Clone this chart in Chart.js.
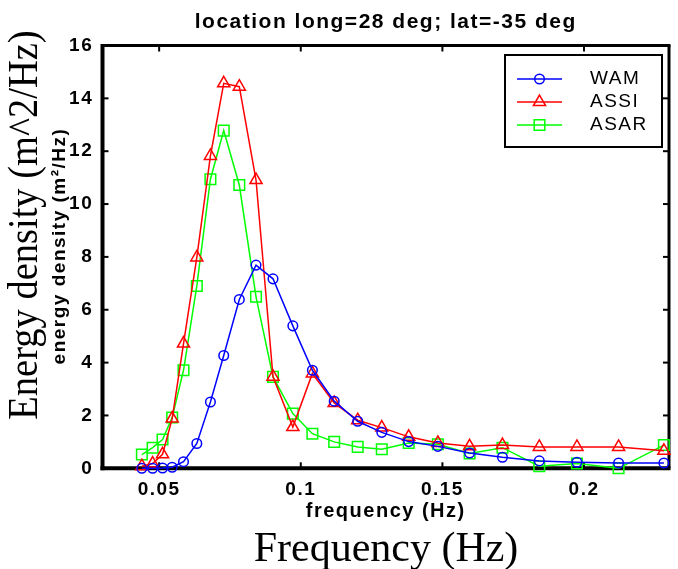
<!DOCTYPE html>
<html><head><meta charset="utf-8">
<script src="https://cdn.jsdelivr.net/npm/chart.js@4.4.1/dist/chart.umd.min.js"></script>
<style>
html,body{margin:0;padding:0;background:#fff;}
#wrap{position:relative;width:678px;height:569px;overflow:hidden;background:#fff;}
canvas{position:absolute;left:0;top:0;}
.lbl{position:absolute;white-space:nowrap;color:#000;line-height:1;}
#bigY{left:22px;top:225px;font-family:"Liberation Serif","Times New Roman",serif;font-size:43px;transform:translate(-50%,-50%) rotate(-90deg) scaleX(0.895);}
#smallY{left:58px;top:246px;font-family:"Liberation Sans",Arial,sans-serif;font-weight:bold;font-size:19px;letter-spacing:1.5px;transform:translate(-50%,-50%) rotate(-90deg);}
#bigX{left:386px;top:526px;font-family:"Liberation Serif","Times New Roman",serif;font-size:42px;transform:translateX(-50%);}
</style></head><body>
<div id="wrap">
<canvas id="c" width="678" height="569"></canvas>
<div class="lbl" id="bigY">Energy density (m^2/Hz)</div>
<div class="lbl" id="smallY">energy density (m²/Hz)</div>
<div class="lbl" id="bigX">Frequency (Hz)</div>
</div>
<script>
// ---- data ----
const frequency = [0.0439, 0.0477, 0.0512, 0.0546, 0.0586, 0.0633, 0.0681, 0.0728, 0.0783, 0.0842, 0.0902, 0.0972, 0.1041, 0.1118, 0.1201, 0.1286, 0.1381, 0.1484, 0.1596, 0.1712, 0.1842, 0.1975, 0.2122, 0.2282];
const wam  = [0, 0, 0.01, 0.04, 0.25, 0.94, 2.51, 4.27, 6.39, 7.69, 7.17, 5.39, 3.71, 2.54, 1.78, 1.36, 1.01, 0.83, 0.58, 0.42, 0.28, 0.23, 0.2, 0.2];
const assi = [0.08, 0.18, 0.53, 1.88, 4.72, 7.98, 11.82, 14.57, 14.44, 10.91, 3.46, 1.56, 3.59, 2.47, 1.82, 1.54, 1.19, 0.96, 0.83, 0.88, 0.81, 0.81, 0.81, 0.66];
const asar = [0.52, 0.78, 1.09, 1.92, 3.71, 6.9, 10.94, 12.78, 10.72, 6.49, 3.46, 2.07, 1.31, 1.0, 0.81, 0.72, 0.96, 0.91, 0.56, 0.78, 0.08, 0.18, 0, 0.88];
const seriesNames = ['WAM', 'ASSI', 'ASAR'];
const xTickValues = [0.05, 0.1, 0.15, 0.2];
const yTickValues = [0, 2, 4, 6, 8, 10, 12, 14, 16];
const titleText = 'location long=28 deg; lat=-35 deg';
const xAxisTitle = 'frequency (Hz)';

const toPts = vals => frequency.map((f, i) => ({x: f, y: vals[i]}));

const spacingPlugin = {
  id: 'spacing',
  beforeDraw(chart) { chart.ctx.letterSpacing = '1.5px'; }
};

const framePlugin = {
  id: 'frame',
  beforeDatasetsDraw(chart) {
    const {ctx, chartArea: a, scales: {x, y}} = chart;
    ctx.save();
    ctx.letterSpacing = '0px';
    ctx.strokeStyle = '#000';
    const seg = (x1, y1, x2, y2) => { ctx.beginPath(); ctx.moveTo(x1, y1); ctx.lineTo(x2, y2); ctx.stroke(); };
    const tl = 6;
    ctx.lineWidth = 2;
    x.ticks.forEach(t => {
      const p = x.getPixelForValue(t.value);
      seg(p, a.bottom, p, a.bottom - tl);
      seg(p, a.top, p, a.top + tl);
    });
    y.ticks.forEach(t => {
      const p = y.getPixelForValue(t.value);
      seg(a.left, p, a.left + tl, p);
      seg(a.right, p, a.right - tl, p);
    });
    ctx.lineWidth = 3;
    seg(a.left - 1.5, a.top, a.right + 1.5, a.top);
    seg(a.right, a.top, a.right, a.bottom);
    ctx.lineWidth = 4;
    seg(a.left, a.top - 1.5, a.left, a.bottom + 2);
    seg(a.left - 2, a.bottom, a.right + 1.5, a.bottom);
    ctx.restore();
  }
};

const legendPlugin = {
  id: 'boxLegend',
  afterDatasetsDraw(chart) {
    const ctx = chart.ctx;
    const bx = 505, by = 55, bw = 157, bh = 92;
    ctx.save();
    ctx.fillStyle = '#fff';
    ctx.fillRect(bx, by, bw, bh);
    ctx.strokeStyle = '#000';
    ctx.lineWidth = 2;
    ctx.strokeRect(bx, by, bw, bh);
    chart.data.datasets.forEach((ds, i) => {
      const yy = by + 24 + i * 23;
      ctx.strokeStyle = ds.borderColor;
      ctx.lineWidth = ds.borderWidth;
      ctx.beginPath(); ctx.moveTo(bx + 12, yy); ctx.lineTo(bx + 57, yy); ctx.stroke();
      ctx.fillStyle = 'rgba(0,0,0,0)';
      ctx.lineWidth = ds.pointBorderWidth;
      Chart.helpers.drawPoint(ctx, {pointStyle: ds.pointStyle, radius: ds.pointRadius, rotation: 0, borderWidth: ds.pointBorderWidth}, bx + 34.5, yy);
      ctx.fillStyle = '#000';
      ctx.letterSpacing = '1.5px';
      ctx.font = '19px "Liberation Sans", Arial, sans-serif';
      ctx.textAlign = 'left';
      ctx.textBaseline = 'middle';
      ctx.fillText(ds.label, bx + 85, yy);
    });
    ctx.restore();
  }
};

const mk = (label, vals, color, style, r) => ({
  label, data: toPts(vals), borderColor: color, backgroundColor: 'rgba(0,0,0,0)',
  borderWidth: 1.5, pointStyle: style, pointRadius: r, pointHoverRadius: r,
  pointBorderColor: color, pointBackgroundColor: 'rgba(0,0,0,0)', pointBorderWidth: 1.5,
  tension: 0, clip: false, fill: false
});

new Chart(document.getElementById('c'), {
  type: 'line',
  data: {
    datasets: [
      mk(seriesNames[0], wam, '#0000ff', 'circle', 4.8),
      mk(seriesNames[1], assi, '#ff0000', 'triangle', 7),
      mk(seriesNames[2], asar, '#00ff00', 'rect', 7.5)
    ]
  },
  options: {
    responsive: false,
    animation: false,
    events: [],
    layout: {padding: {left: 0, right: 2.5, top: 0, bottom: 0}},
    plugins: {
      legend: {display: false},
      tooltip: {enabled: false},
      title: {
        display: true, text: titleText, fullSize: false, color: '#000',
        font: {family: '"Liberation Sans", Arial, sans-serif', size: 21, weight: 'bold'},
        padding: {top: 9.4, bottom: 10.9}
      }
    },
    scales: {
      x: {
        type: 'linear', min: 0.03, max: 0.23,
        grid: {display: false, drawTicks: false}, border: {display: false},
        afterBuildTicks: s => { s.ticks = xTickValues.map(v => ({value: v})); },
        afterFit: s => { s.height = 569 - 468.3; },
        ticks: {
          color: '#000', padding: 10, maxRotation: 0, autoSkip: false,
          font: {family: '"Liberation Sans", Arial, sans-serif', size: 19, weight: 'bold'},
          callback: v => String(v)
        },
        title: {
          display: true, text: xAxisTitle, color: '#000',
          font: {family: '"Liberation Sans", Arial, sans-serif', size: 20, weight: 'bold'},
          padding: {top: 0, bottom: 45.6}
        }
      },
      y: {
        type: 'linear', min: 0, max: 16,
        grid: {display: false, drawTicks: false}, border: {display: false},
        afterBuildTicks: s => { s.ticks = yTickValues.map(v => ({value: v})); },
        afterFit: s => { s.width = 102.5; },
        ticks: {
          color: '#000', padding: 9.3, autoSkip: false,
          font: {family: '"Liberation Sans", Arial, sans-serif', size: 19, weight: 'bold'},
          callback: v => String(v)
        }
      }
    }
  },
  plugins: [spacingPlugin, framePlugin, legendPlugin]
});
</script>
</body></html>
